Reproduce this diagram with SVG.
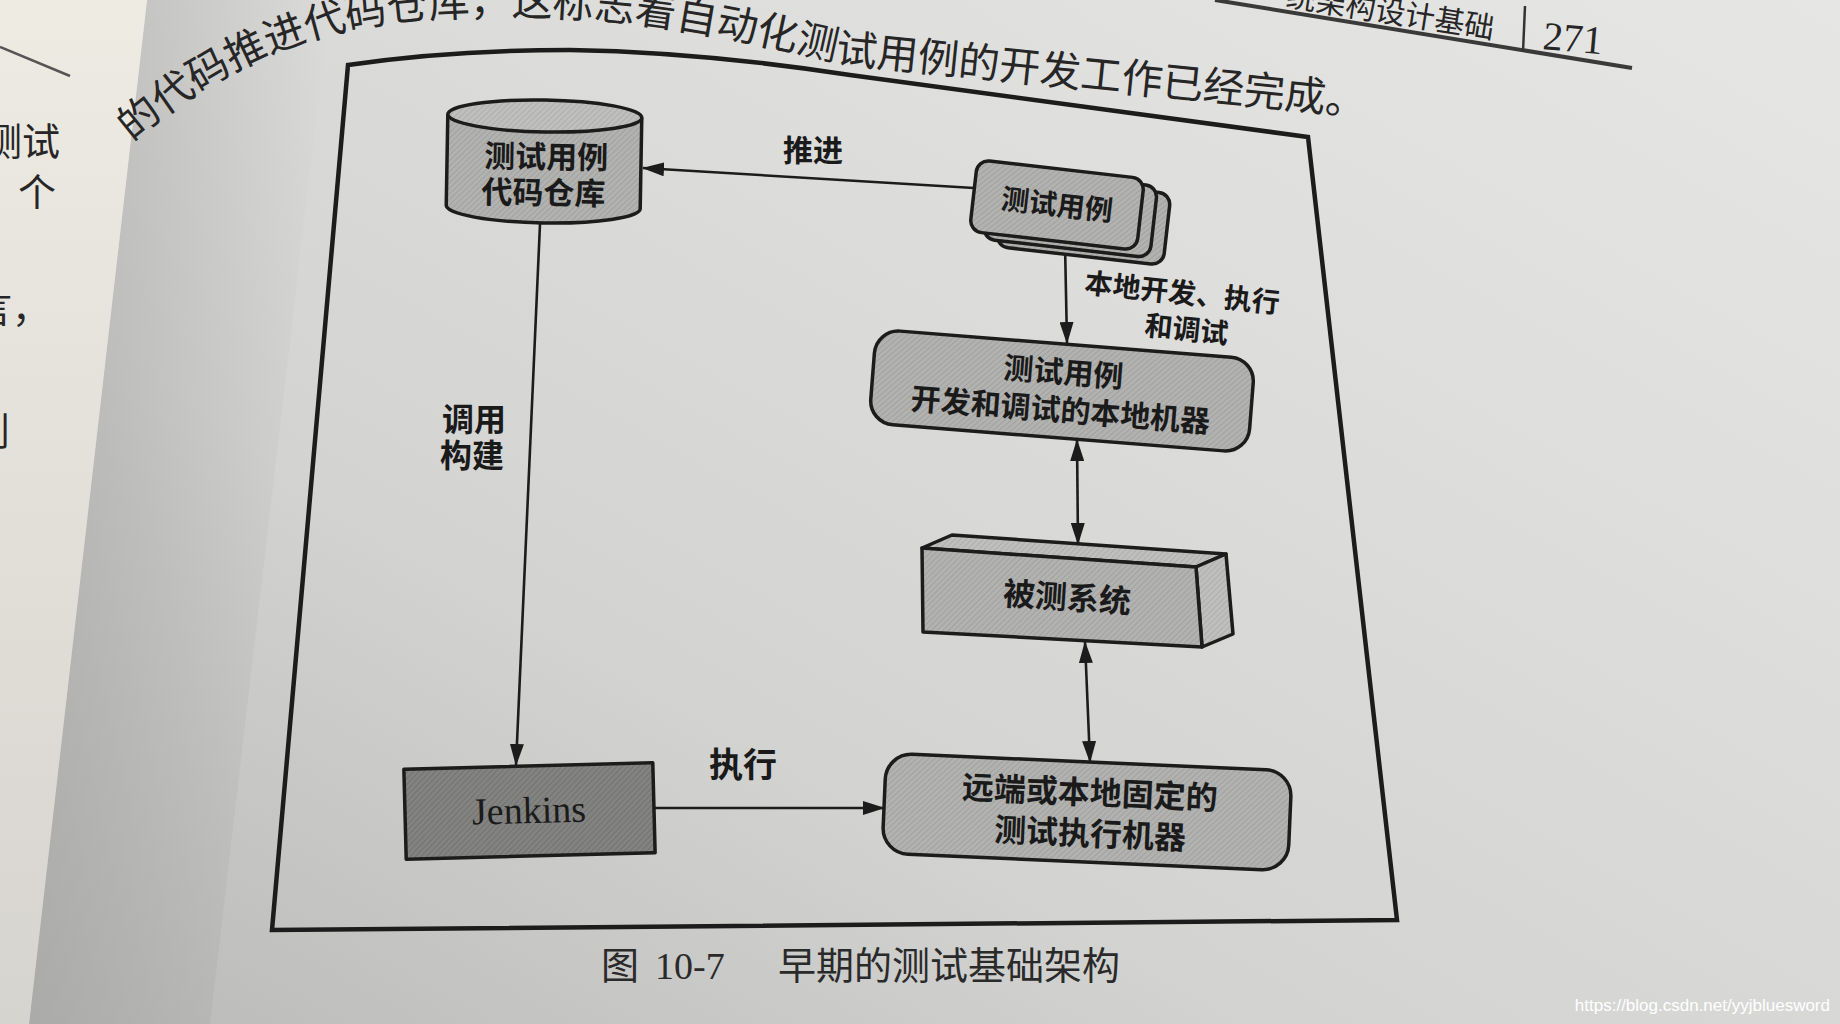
<svg xmlns="http://www.w3.org/2000/svg" width="1840" height="1024" viewBox="0 0 1840 1024">
<defs>
  <linearGradient id="page" x1="0" y1="1" x2="1" y2="0">
    <stop offset="0" stop-color="#b9b9b7"/>
    <stop offset="0.35" stop-color="#d3d3d1"/>
    <stop offset="0.7" stop-color="#dededc"/>
    <stop offset="1" stop-color="#e6e6e4"/>
  </linearGradient>
  <linearGradient id="gutter" x1="0" y1="0" x2="1" y2="0">
    <stop offset="0" stop-color="#9e9e9c" stop-opacity="0.55"/>
    <stop offset="1" stop-color="#9e9e9c" stop-opacity="0"/>
  </linearGradient>
  <linearGradient id="leftpage" x1="0" y1="0" x2="0" y2="1">
    <stop offset="0" stop-color="#eeebe3"/>
    <stop offset="1" stop-color="#d6d4ce"/>
  </linearGradient>
  <pattern id="hatch" width="4" height="4" patternUnits="userSpaceOnUse" patternTransform="rotate(45)">
    <rect width="4" height="4" fill="#b2b2b0"/>
    <line x1="0" y1="0" x2="0" y2="4" stroke="#959593" stroke-width="1.2"/>
  </pattern>
  <pattern id="hatchLight" width="4" height="4" patternUnits="userSpaceOnUse" patternTransform="rotate(45)">
    <rect width="4" height="4" fill="#bfbfbd"/>
    <line x1="0" y1="0" x2="0" y2="4" stroke="#a3a3a1" stroke-width="1.2"/>
  </pattern>
  <pattern id="hatchDark" width="4" height="4" patternUnits="userSpaceOnUse" patternTransform="rotate(45)">
    <rect width="4" height="4" fill="#838381"/>
    <line x1="0" y1="0" x2="0" y2="4" stroke="#666664" stroke-width="1.2"/>
  </pattern>
  <marker id="arr" markerUnits="userSpaceOnUse" markerWidth="22" markerHeight="14" refX="21" refY="7" orient="auto-start-reverse">
    <path d="M0,0 L22,7 L0,14 Z" fill="#1c1c1c"/>
  </marker>
  <path id="topline" d="M132,142 C225,62 318,26 430,18 C600,8 700,30 850,64 L1420,122"/>
  <style>
    .box { stroke: #1c1c1c; stroke-width: 3.5; stroke-linejoin: round; }
    .lbl { font-family: "Noto Sans CJK SC", "Noto Sans", sans-serif; font-weight: 700; fill: #1a1a1a; text-anchor: middle; }
    .conn { stroke: #1c1c1c; stroke-width: 2.6; fill: none; }
    .body { font-family: "Noto Sans CJK SC", sans-serif; font-weight: 400; fill: #262626; }
  </style>
</defs>

<!-- page background -->
<rect width="1840" height="1024" fill="url(#page)"/>
<polygon points="147,0 330,0 210,1024 29,1024" fill="url(#gutter)"/>
<polygon points="0,0 147,0 29,1024 0,1024" fill="url(#leftpage)"/>
<line x1="0" y1="47" x2="70" y2="76" stroke="#555" stroke-width="2.5"/>
<g class="body" font-size="38">
  <text x="-16" y="155">测试</text>
  <text x="18" y="206">个</text>
  <text x="-26" y="322">言，</text>
  <text x="-28" y="445">则</text>
</g>

<!-- running text of the page (one line following the page curl) -->
<g class="body" font-size="41">
  <text><textPath href="#topline" startOffset="0">的代码推进</textPath></text>
  <text><textPath href="#topline" startOffset="205">代码仓库，</textPath></text>
  <text><textPath href="#topline" startOffset="410">这标志着自动化测试用例的开发工作已经完成。</textPath></text>
</g>

<!-- header -->
<line x1="1215" y1="0" x2="1632" y2="68" stroke="#3a3a3a" stroke-width="4"/>
<text class="body" font-size="30" x="1285" y="6" transform="rotate(9 1285 6)">统架构设计基础</text>
<line x1="1525" y1="6" x2="1523" y2="52" stroke="#333" stroke-width="2.5"/>
<text x="1542" y="49" font-family="Liberation Serif, serif" font-size="40" fill="#262626" transform="rotate(5 1542 49)">271</text>

<!-- frame -->
<path d="M348,65 Q450,50 570,50 Q700,52 850,75 L1308,137 L1397,920 L272,930 Z" fill="none" stroke="#1c1c1c" stroke-width="4.5" stroke-linejoin="miter"/>

<!-- connectors -->
<g id="connectors">
  <line class="conn" x1="974" y1="188" x2="643" y2="168" marker-end="url(#arr)"/>
  <line class="conn" x1="1065" y1="244" x2="1067" y2="343" marker-end="url(#arr)"/>
  <line class="conn" x1="1077" y1="440" x2="1078" y2="544" marker-start="url(#arr)" marker-end="url(#arr)"/>
  <line class="conn" x1="1085" y1="642" x2="1090" y2="762" marker-start="url(#arr)" marker-end="url(#arr)"/>
  <line class="conn" x1="540" y1="224" x2="516" y2="765" marker-end="url(#arr)"/>
  <line class="conn" x1="655" y1="808" x2="884" y2="808" marker-end="url(#arr)"/>
  <text class="lbl" font-size="30" x="813" y="161">推进</text>
  <g transform="rotate(6 1182 315)">
    <text class="lbl" font-size="28" x="1180" y="303">本地开发、执行</text>
    <text class="lbl" font-size="28" x="1188" y="339">和调试</text>
  </g>
  <text class="lbl" font-size="32" x="474" y="431">调用</text>
  <text class="lbl" font-size="32" x="472" y="467">构建</text>
  <text class="lbl" font-size="34" x="743" y="777">执行</text>
</g>

<!-- repository cylinder -->
<g id="repo" transform="rotate(1 544 162)">
  <path class="box" d="M447,116 L447,207 A97,16 0 0 0 641,207 L641,116" fill="url(#hatch)"/>
  <ellipse class="box" cx="544" cy="116" rx="97" ry="16" fill="url(#hatchLight)"/>
  <text class="lbl" font-size="31" x="546" y="168">测试用例</text>
  <text class="lbl" font-size="31" x="544" y="204">代码仓库</text>
</g>

<!-- stacked test cases -->
<g id="testcases" transform="rotate(6.5 1057 205)">
  <rect class="box" x="1001" y="181" width="168" height="72" rx="12" fill="url(#hatch)"/>
  <rect class="box" x="987" y="175" width="168" height="72" rx="12" fill="url(#hatch)"/>
  <rect class="box" x="973" y="169" width="168" height="72" rx="12" fill="url(#hatch)"/>
  <text class="lbl" font-size="28" x="1057" y="215">测试用例</text>
</g>

<!-- local machine -->
<g id="local" transform="rotate(4.5 1062 391)">
  <rect class="box" x="872" y="344" width="380" height="94" rx="24" fill="url(#hatch)"/>
  <text class="lbl" font-size="30" x="1062" y="383">测试用例</text>
  <text class="lbl" font-size="30" x="1062" y="421">开发和调试的本地机器</text>
</g>

<!-- system under test -->
<g id="sut">
  <polygon class="box" points="922,548 952,535 1226,554 1196,567" fill="url(#hatchLight)"/>
  <polygon class="box" points="1196,567 1226,554 1233,634 1202,647" fill="url(#hatchLight)"/>
  <polygon class="box" points="922,548 1196,567 1202,647 923,632" fill="url(#hatch)"/>
  <text class="lbl" font-size="32" x="1067" y="609" transform="rotate(3.8 1067 598)">被测系统</text>
</g>

<!-- remote/fixed execution machine -->
<g id="remote" transform="rotate(2.5 1087 812)">
  <rect class="box" x="884" y="762" width="406" height="100" rx="26" fill="url(#hatch)"/>
  <text class="lbl" font-size="32" x="1089" y="804">远端或本地固定的</text>
  <text class="lbl" font-size="32" x="1091" y="845">测试执行机器</text>
</g>

<!-- Jenkins -->
<g id="jenkins" transform="rotate(-1.5 530 811)">
  <rect class="box" x="405" y="766" width="249" height="90" fill="url(#hatchDark)"/>
  <text x="529" y="823" font-family="Liberation Serif, serif" font-size="38" fill="#1a1a1a" text-anchor="middle">Jenkins</text>
</g>

<!-- caption -->
<g font-size="38" fill="#2a2a2a">
  <text x="601" y="979" font-family="Noto Sans CJK SC, sans-serif">图</text>
  <text x="655" y="979" font-family="Liberation Serif, serif">10-7</text>
  <text x="778" y="979" font-family="Noto Sans CJK SC, sans-serif">早期的测试基础架构</text>
</g>

<!-- watermark -->
<text x="1830" y="1011" font-family="Liberation Sans, sans-serif" font-size="17" fill="#ffffff" text-anchor="end">https://blog.csdn.net/yyjbluesword</text>
</svg>
